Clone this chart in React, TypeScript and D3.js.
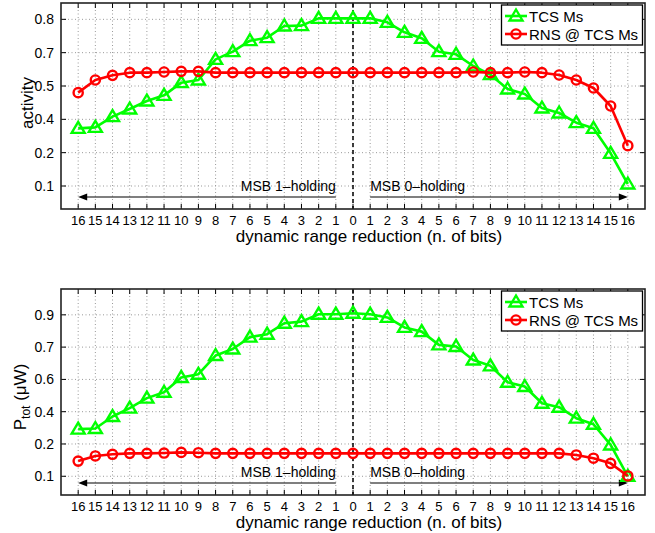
import React from 'react';
import * as d3 from 'd3';

// x categories: bits of dynamic range reduction (MSB 1-holding on the left, 0-holding on the right)
const xTickLabels = [
  '16', '15', '14', '13', '12', '11', '10', '9', '8', '7', '6', '5', '4', '3', '2', '1',
  '0',
  '1', '2', '3', '4', '5', '6', '7', '8', '9', '10', '11', '12', '13', '14', '15', '16',
];

// top panel: activity (tick labels as printed on the axis)
const activityTicks = [0.1, 0.2, 0.4, 0.5, 0.7, 0.8];
const activityTCS = [
  0.346, 0.352, 0.408, 0.431, 0.455, 0.472, 0.52, 0.536, 0.66, 0.703, 0.736, 0.745, 0.78, 0.781, 0.803, 0.803,
  0.803,
  0.803, 0.791, 0.761, 0.743, 0.703, 0.69, 0.62, 0.568, 0.491, 0.476, 0.434, 0.419, 0.38, 0.346, 0.198, 0.106,
];
const activityRNS = [
  0.48, 0.536, 0.564, 0.58, 0.58, 0.584, 0.588, 0.588, 0.58, 0.58, 0.58, 0.58, 0.58, 0.58, 0.58, 0.58,
  0.58,
  0.58, 0.58, 0.58, 0.58, 0.58, 0.58, 0.584, 0.58, 0.58, 0.584, 0.58, 0.566, 0.536, 0.494, 0.44, 0.242,
];

// bottom panel: total power in uW
const powerTicks = [0.1, 0.2, 0.4, 0.6, 0.7, 0.9];
const powerTCS = [
  0.292, 0.296, 0.37, 0.422, 0.484, 0.52, 0.606, 0.616, 0.674, 0.694, 0.762, 0.78, 0.848, 0.858, 0.904, 0.904,
  0.91,
  0.904, 0.884, 0.822, 0.796, 0.714, 0.704, 0.66, 0.642, 0.582, 0.556, 0.452, 0.428, 0.36, 0.322, 0.197, 0.1,
];
const powerRNS = [
  0.147, 0.163, 0.168, 0.171, 0.171, 0.172, 0.174, 0.173, 0.171, 0.171, 0.171, 0.171, 0.171, 0.171, 0.171, 0.171,
  0.171,
  0.171, 0.171, 0.171, 0.171, 0.171, 0.171, 0.171, 0.171, 0.171, 0.171, 0.171, 0.171, 0.166, 0.156, 0.14, 0.101,
];

const seriesNames = ['TCS Ms', 'RNS @ TCS Ms'];
const regionLabels = ['MSB 1\u2013holding', 'MSB 0\u2013holding'];

const GREEN = '#00ff00';
const RED = '#ff0000';
const FONT = '"Liberation Sans", Arial, Helvetica, sans-serif';

const triPath = 'M0,-6.5L6.5,4.5L-6.5,4.5Z';

const Panel = ({ top, bottom, ticks, tcs, rns, gridPad, yLabel }) => {
  const left = 61;
  const right = 645;

  const x = d3
    .scalePoint()
    .domain(xTickLabels.map((_, i) => i))
    .range([left, right])
    .padding(1);

  // the printed tick labels sit on evenly spaced gridlines
  const grid = d3.scaleLinear().domain([-gridPad[0], ticks.length - 1 + gridPad[1]]).range([bottom, top]);
  const y = d3
    .scaleLinear()
    .domain(ticks)
    .range(ticks.map((_, i) => grid(i)));

  const line = d3
    .line()
    .x((d, i) => x(i))
    .y((d) => y(d));

  const zeroX = x(16);
  const arrowY = bottom - 12;
  const legendTop = top + 2;

  return (
    <g fontFamily={FONT}>
      {/* grid */}
      {xTickLabels.map((_, i) => (
        <line key={'gx' + i} x1={x(i)} x2={x(i)} y1={top} y2={bottom} stroke="#999" strokeWidth={1} strokeDasharray="1,2.5" />
      ))}
      {ticks.map((t) => (
        <line key={'gy' + t} x1={left} x2={right} y1={y(t)} y2={y(t)} stroke="#999" strokeWidth={1} strokeDasharray="1,2.5" />
      ))}

      {/* ticks inside the box */}
      {xTickLabels.map((_, i) => (
        <g key={'tx' + i}>
          <line x1={x(i)} x2={x(i)} y1={bottom} y2={bottom - 5} stroke="#000" />
          <line x1={x(i)} x2={x(i)} y1={top} y2={top + 5} stroke="#000" />
        </g>
      ))}
      {ticks.map((t) => (
        <g key={'ty' + t}>
          <line x1={left} x2={left + 5} y1={y(t)} y2={y(t)} stroke="#000" />
          <line x1={right} x2={right - 5} y1={y(t)} y2={y(t)} stroke="#000" />
        </g>
      ))}

      {/* zero reference */}
      <line x1={zeroX} x2={zeroX} y1={top} y2={bottom} stroke="#000" strokeWidth={1.5} strokeDasharray="4,3" />

      {/* region arrows */}
      <line x1={x(15)} x2={x(0) + 6} y1={arrowY} y2={arrowY} stroke="#000" strokeWidth={1.2} />
      <path d={`M${x(0)},${arrowY}l9,-3.5l0,7Z`} fill="#000" />
      <line x1={x(17)} x2={x(32) - 6} y1={arrowY} y2={arrowY} stroke="#000" strokeWidth={1.2} />
      <path d={`M${x(32)},${arrowY}l-9,-3.5l0,7Z`} fill="#000" />
      <text x={x(15)} y={arrowY - 6} textAnchor="end" fontSize={14}>{regionLabels[0]}</text>
      <text x={x(17)} y={arrowY - 6} textAnchor="start" fontSize={14}>{regionLabels[1]}</text>

      {/* series */}
      <path d={line(tcs)} fill="none" stroke={GREEN} strokeWidth={2.6} strokeLinejoin="round" />
      {tcs.map((v, i) => (
        <path key={'m1' + i} d={triPath} transform={`translate(${x(i)},${y(v)})`} fill="none" stroke={GREEN} strokeWidth={2.4} />
      ))}
      <path d={line(rns)} fill="none" stroke={RED} strokeWidth={2.6} strokeLinejoin="round" />
      {rns.map((v, i) => (
        <circle key={'m2' + i} cx={x(i)} cy={y(v)} r={4.6} fill="none" stroke={RED} strokeWidth={2.4} />
      ))}

      {/* box */}
      <rect x={left} y={top} width={right - left} height={bottom - top} fill="none" stroke="#222" strokeWidth={1.6} />

      {/* tick labels */}
      {xTickLabels.map((l, i) => (
        <text key={'lx' + i} x={x(i)} y={bottom + 16} textAnchor="middle" fontSize={13}>{l}</text>
      ))}
      {ticks.map((t) => (
        <text key={'ly' + t} x={left - 7} y={y(t) + 5} textAnchor="end" fontSize={14}>{t}</text>
      ))}

      {/* axis titles */}
      <text x={369} y={bottom + 33} textAnchor="middle" fontSize={17}>dynamic range reduction (n. of bits)</text>
      {yLabel}

      {/* legend */}
      <rect x={501.5} y={legendTop} width={141} height={40} fill="#fff" stroke="#000" strokeWidth={1.3} />
      {[GREEN, RED].map((c, i) => {
        const ly = legendTop + 11 + i * 18;
        return (
          <g key={'lg' + i}>
            <line x1={505} x2={527} y1={ly} y2={ly} stroke={c} strokeWidth={2.6} />
            {i === 0 ? (
              <path d={triPath} transform={`translate(516,${ly})`} fill="none" stroke={c} strokeWidth={2.4} />
            ) : (
              <circle cx={516} cy={ly} r={4.6} fill="none" stroke={c} strokeWidth={2.4} />
            )}
            <text x={529} y={ly + 5.5} fontSize={15}>{seriesNames[i]}</text>
          </g>
        );
      })}
    </g>
  );
};

export default function App() {
  return (
    <svg width={655} height={533} style={{ position: 'absolute', left: 0, top: 0, background: '#fff' }}>
      <rect width={655} height={533} fill="#fff" />
      <Panel
        top={3}
        bottom={209}
        ticks={activityTicks}
        tcs={activityTCS}
        rns={activityRNS}
        gridPad={[0.69, 0.49]}
        yLabel={
          <text transform="translate(33,103) rotate(-90)" textAnchor="middle" fontSize={17}>activity</text>
        }
      />
      <Panel
        top={289}
        bottom={495}
        ticks={powerTicks}
        tcs={powerTCS}
        rns={powerRNS}
        gridPad={[0.58, 0.8]}
        yLabel={
          <text transform="translate(26,397) rotate(-90)" textAnchor="middle" fontSize={17}>
            P<tspan dy={4} fontSize={12}>tot</tspan>
            <tspan dy={-4}>{' (\u03bcW)'}</tspan>
          </text>
        }
      />
    </svg>
  );
}
